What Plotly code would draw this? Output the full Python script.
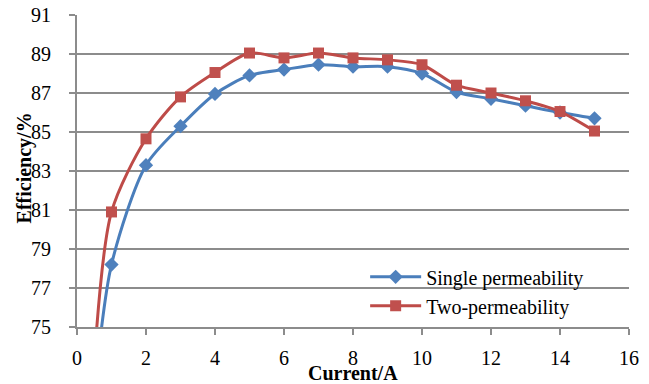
import plotly.graph_objects as go

# Output current (A) and measured efficiency (%) for the two inductor designs
current = [0.5, 1, 2, 3, 4, 5, 6, 7, 8, 9, 10, 11, 12, 13, 14, 15]
eff_single = [71.5, 78.2, 83.3, 85.3, 86.95, 87.9, 88.2, 88.45, 88.35, 88.35, 88.0, 87.05, 86.7, 86.35, 86.0, 85.7]
eff_two = [73.2, 80.9, 84.65, 86.8, 88.05, 89.05, 88.8, 89.05, 88.8, 88.7, 88.45, 87.4, 87.0, 86.6, 86.05, 85.05]

x_ticks = [0, 2, 4, 6, 8, 10, 12, 14, 16]
y_ticks = [75, 77, 79, 81, 83, 85, 87, 89, 91]

FONT = "Liberation Serif, Times New Roman, serif"
GRID = "#8c8c8c"

fig = go.Figure()
fig.add_trace(go.Scatter(
    x=current, y=eff_single, name="Single permeability",
    mode="lines+markers",
    line=dict(color="#4A7EBB", width=3, shape="spline", smoothing=0.8),
    marker=dict(symbol="diamond", size=11, color="#4F81BD"),
))
fig.add_trace(go.Scatter(
    x=current, y=eff_two, name="Two-permeability",
    mode="lines+markers",
    line=dict(color="#BE4B48", width=3, shape="spline", smoothing=0.8),
    marker=dict(symbol="square", size=11, color="#C0504D"),
))

fig.update_layout(
    width=649, height=384,
    margin=dict(l=76.5, r=20.3, t=15, b=57.3),
    paper_bgcolor="white", plot_bgcolor="white",
    font=dict(family=FONT, size=20, color="#000000"),
    showlegend=True,
    legend=dict(
        x=0.522, y=0.1145, xanchor="left", yanchor="middle",
        bgcolor="rgba(255,255,255,0)", borderwidth=0,
        font=dict(family=FONT, size=20, color="#000000"),
        tracegroupgap=0, itemwidth=51,
    ),
    xaxis=dict(
        range=[0, 16], tickvals=x_ticks, ticktext=[str(v) for v in x_ticks],
        showgrid=False, zeroline=False, automargin=False,
        showline=True, linecolor=GRID, linewidth=2,
        ticks="outside", ticklen=6, tickwidth=2, tickcolor=GRID,
        ticklabelstandoff=6,
    ),
    yaxis=dict(
        range=[75, 91], tickvals=y_ticks, ticktext=[str(v) for v in y_ticks],
        showgrid=True, gridcolor=GRID, gridwidth=2,
        zeroline=False, automargin=False,
        showline=True, linecolor=GRID, linewidth=2,
        ticks="outside", ticklen=6, tickwidth=2, tickcolor=GRID,
        ticklabelstandoff=14,
    ),
    annotations=[
        dict(text="<b>Current/A</b>", xref="paper", yref="paper",
             x=0.5, y=-0.148, xanchor="center", yanchor="middle",
             showarrow=False, font=dict(family=FONT, size=20)),
        dict(text="<b>Efficiency/%</b>", xref="paper", yref="paper",
             x=-0.095, y=0.51, xanchor="center", yanchor="middle", textangle=-90,
             showarrow=False, font=dict(family=FONT, size=20)),
    ],
)

fig.write_html("out.html")
